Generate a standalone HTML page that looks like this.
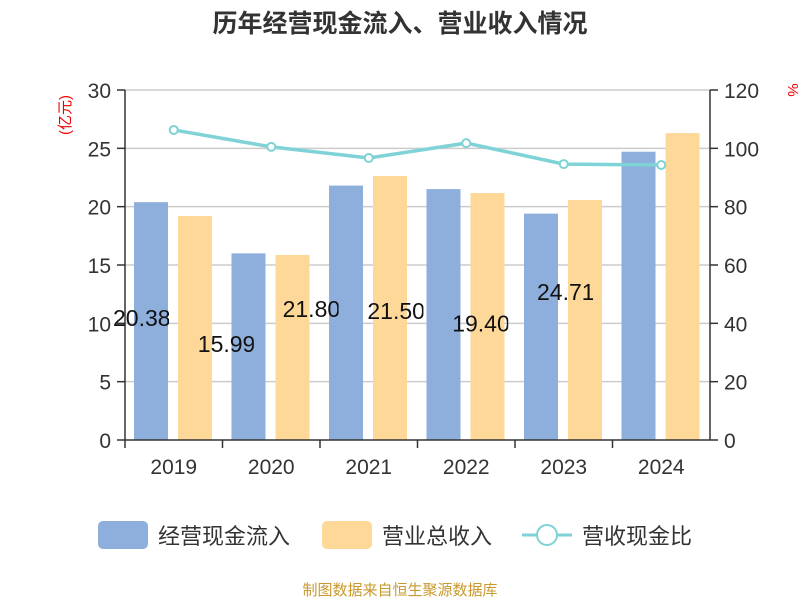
<!DOCTYPE html>
<html><head><meta charset="utf-8"><style>
body{margin:0;background:#fff;}
svg{display:block;font-family:"Liberation Sans","Noto Sans CJK SC",sans-serif;}
</style></head><body>
<svg width="800" height="600">
<text x="400" y="32" text-anchor="middle" font-size="25" font-weight="bold" fill="#333">历年经营现金流入、营业收入情况</text>
<text x="70" y="115" font-size="15" fill="#e00" transform="rotate(-90 70 115)" text-anchor="middle">(亿元)</text>
<text x="788" y="90" font-size="15" fill="#e00" transform="rotate(90 788 90)" text-anchor="middle">%</text>
<g id="grid"></g><g id="bars"></g><g id="axes"></g><g id="line"></g><g id="labels"></g>
<g>
<rect x="98" y="521" width="50" height="28" rx="5" fill="#8eaedb"/>
<text x="158" y="544" font-size="22" fill="#333">经营现金流入</text>
<rect x="322" y="521" width="50" height="28" rx="5" fill="#fed899"/>
<text x="382" y="544" font-size="22" fill="#333">营业总收入</text>
<line x1="522" y1="535" x2="572" y2="535" stroke="#7fd3d6" stroke-width="3"/>
<circle cx="547" cy="535" r="10" fill="#fff" stroke="#7fd3d6" stroke-width="2"/>
<text x="582" y="544" font-size="22" fill="#333">营收现金比</text>
</g>
<text x="400" y="595" text-anchor="middle" font-size="15" fill="#c9992e">制图数据来自恒生聚源数据库</text>
</svg>
<script>
const categories=["2019","2020","2021","2022","2023","2024"];
const cashInflow=[20.386,15.997,21.806,21.506,19.403,24.711];
const revenue=[19.2,15.86,22.63,21.17,20.57,26.31];
const ratio=[106.3,100.5,96.7,101.8,94.6,94.3];
const leftTicks=[0,5,10,15,20,25,30];
const rightTicks=[0,20,40,60,80,100,120];
const NS="http://www.w3.org/2000/svg";
const X0=125,X1=710,Y0=440,Y1=90;
const band=(X1-X0)/categories.length;
const yL=v=>Y0-(v/30)*(Y0-Y1);
const yR=v=>Y0-(v/120)*(Y0-Y1);
function mk(tag,attrs,parent,txt){const e=document.createElementNS(NS,tag);for(const k in attrs)e.setAttribute(k,attrs[k]);if(txt!==undefined)e.textContent=txt;document.getElementById(parent)?document.getElementById(parent).appendChild(e):parent.appendChild(e);return e;}
leftTicks.forEach((t,i)=>{
 const y=yL(t);
 if(i>0){const g=mk('line',{x1:X0,x2:X1,y1:y,y2:y,stroke:'#ccc','stroke-width':1.5},'grid');
 
 }
 const tk=mk('line',{x1:X0-8,x2:X0,y1:y,y2:y,stroke:'#333','stroke-width':1.5},'axes');
 
 
 const tl=mk('text',{x:X0-14,y:y+8,'text-anchor':'end','font-size':21,fill:'#333'},'axes',String(t));
 
 
});
rightTicks.forEach(t=>{
 const y=yR(t);
 const tk=mk('line',{x1:X1,x2:X1+8,y1:y,y2:y,stroke:'#333','stroke-width':1.5},'axes');
 
 
 const tl=mk('text',{x:X1+14,y:y+8,'font-size':21,fill:'#333'},'axes',String(t));
 
 
});
let a=mk('line',{x1:X0,x2:X0,y1:Y1,y2:Y0,stroke:'#333','stroke-width':1.5},'axes');


a=mk('line',{x1:X1,x2:X1,y1:Y1,y2:Y0,stroke:'#333','stroke-width':1.5},'axes');


a=mk('line',{x1:X0,x2:X1,y1:Y0,y2:Y0,stroke:'#333','stroke-width':1.5},'axes');


const defs=mk('defs',{},document.querySelector('svg'));
categories.forEach((c,i)=>{
 const bx=X0+i*band;
 const tk=mk('line',{x1:bx,x2:bx,y1:Y0,y2:Y0+8,stroke:'#333','stroke-width':1.5},'axes');
 
 
 const tl=mk('text',{x:bx+band/2,y:Y0+34,'text-anchor':'middle','font-size':21,fill:'#333'},'axes',c);
 
 
 const b1=mk('rect',{x:bx+9,y:yL(cashInflow[i]),width:34,height:Y0-yL(cashInflow[i]),fill:'#8eaedb'},'bars');
 
 
 const b2=mk('rect',{x:bx+53,y:yL(revenue[i]),width:34,height:Y0-yL(revenue[i]),fill:'#fed899'},'bars');
 
 
 const lx=113+i*84.8;
 const cp=mk('clipPath',{id:'cp'+i},defs);
 mk('rect',{x:lx-5,y:0,width:61,height:600},cp);
 const lb=mk('text',{x:lx,y:yL(cashInflow[i]*0.514)+8,'font-size':23,fill:'#111','clip-path':'url(#cp'+i+')'},'labels',cashInflow[i].toFixed(3));
 
 
});
const pts=ratio.map((v,i)=>[X0+band*(i+0.5),yR(v)]);
const pl=mk('polyline',{points:pts.map(p=>p.join(',')).join(' '),fill:'none',stroke:'#7fd3d6','stroke-width':3.5},'line');


pts.forEach((p,i)=>{
 const c=mk('circle',{cx:p[0],cy:p[1],r:4,fill:'#fff',stroke:'#7fd3d6','stroke-width':2},'line');
 
 
});
</script>
</body></html>
